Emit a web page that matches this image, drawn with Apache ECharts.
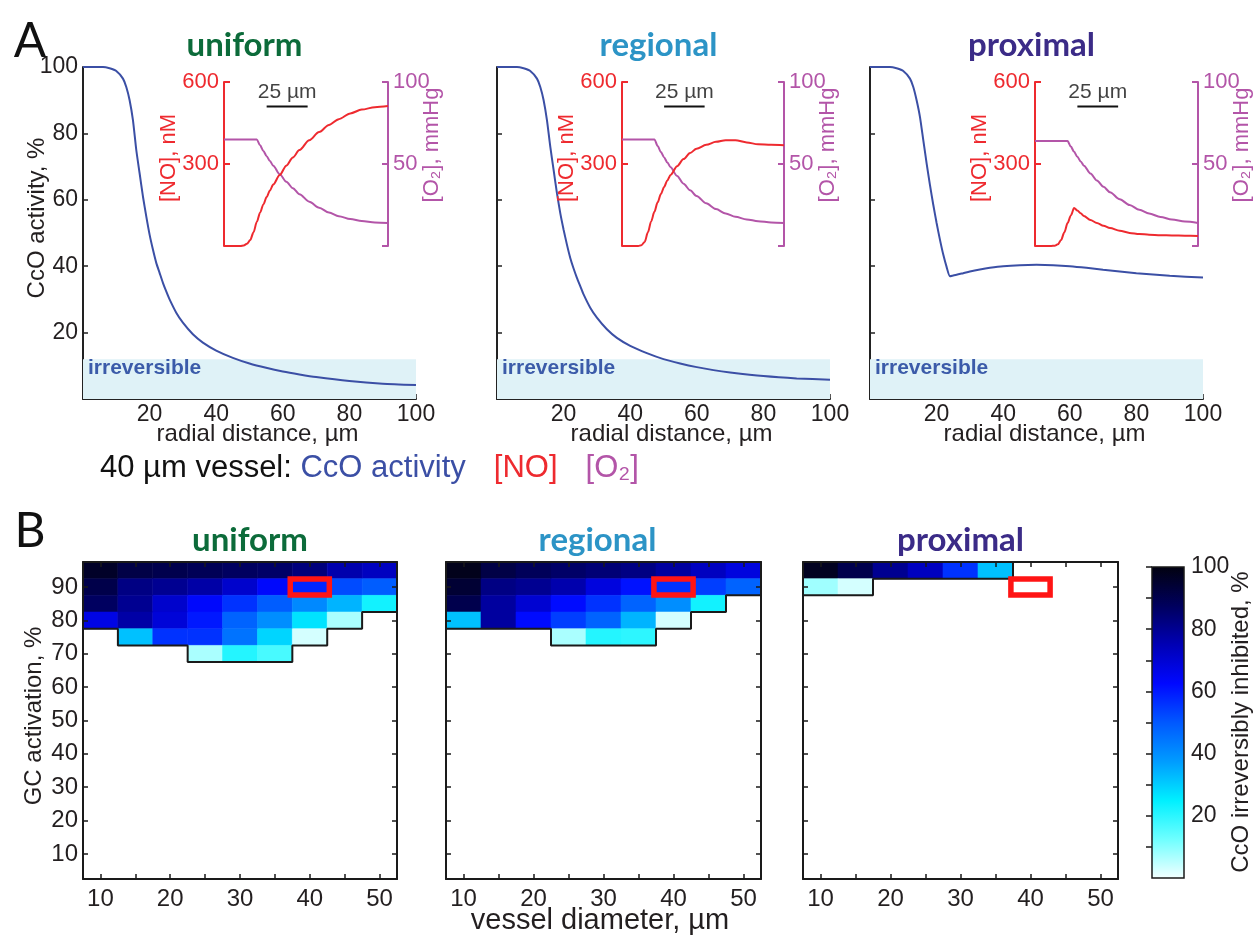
<!DOCTYPE html>
<html>
<head>
<meta charset="utf-8">
<script src="https://cdn.jsdelivr.net/npm/echarts@6/dist/echarts.min.js"></script>
<style>
  html, body { margin: 0; padding: 0; background: #ffffff; }
  #chart { width: 1256px; height: 938px; }
</style>
</head>
<body>
<div id="chart"></div>
<script>
// ---------------- Panel A: CcO activity around a 40 µm vessel ----------------
const radialA = [0, 6, 8, 10, 12, 13, 14, 15, 16, 17, 18, 19, 20, 21, 22, 23, 24, 25, 26, 28, 30, 33, 36, 40, 45, 50, 55, 60, 65, 70, 80, 90, 100];
const ccoUniform  = [100, 100, 99.6, 98.8, 96.5, 94, 90, 84, 75, 68, 61, 55, 49.5, 45, 41, 38, 35, 32.4, 30, 26, 23, 19.5, 17, 14.6, 12.4, 10.7, 9.4, 8.3, 7.4, 6.6, 5.4, 4.6, 4.2];
const ccoRegional = [100, 100, 99.6, 98.8, 96.5, 94, 90, 84, 76, 69, 62, 56, 51, 46.5, 42.5, 39.3, 36.5, 34, 31.5, 27.5, 24.5, 21, 18.4, 16, 13.8, 12, 10.7, 9.6, 8.7, 8, 6.9, 6.2, 5.8];
const ccoProximal = [100, 100, 99.6, 98.8, 96.5, 94, 90, 85, 78, 71, 64.5, 58.5, 53, 48, 43.5, 39.8, 37, 37.2, 37.4, 37.9, 38.4, 39.0, 39.5, 40.0, 40.3, 40.4, 40.3, 40.0, 39.5, 38.9, 37.9, 37.1, 36.6];
const irreversibleLevel = 12;

// Inset profiles: [NO] (nM) and [O2] (mmHg) vs radial distance (µm)
const radialInset = [0, 10, 12, 14, 16, 18, 20, 22, 24, 26, 28, 30, 34, 38, 42, 46, 52, 58, 64, 70, 77, 84, 92, 100];
const noUniform   = [0, 0, 2, 8, 22, 50, 88, 122, 152, 179, 203, 225, 260, 294, 324, 351, 387, 417, 443, 464, 485, 499, 508, 512];
const o2Uniform   = [65, 65, 65, 65, 65, 65, 65, 61.4, 58, 54.8, 51.8, 49, 43.8, 39.2, 35.2, 31.6, 27, 23.3, 20.4, 18.2, 16.4, 15.2, 14.4, 14];
const noRegional  = [0, 0, 3, 15, 50, 90, 125, 160, 190, 216, 240, 260, 292, 318, 340, 356, 370, 381, 387, 387, 379, 372, 370, 369];
const o2Regional  = [65, 65, 65, 65, 65, 65, 65, 61, 57.3, 54, 50.9, 48, 42.7, 38, 34, 30.5, 26, 22.5, 19.8, 17.8, 16.2, 15.1, 14.4, 14];
const noProximal  = [0, 0, 1, 6, 22, 50, 84, 112, 139, 130, 120, 110, 95, 84, 74, 66, 56, 48, 44, 41.5, 39.5, 38.5, 37.5, 37];
const o2Proximal  = [64, 64, 64, 64, 64, 64, 64, 60.6, 57.4, 54.4, 51.6, 49, 44.2, 39.9, 36.1, 32.8, 28.5, 25, 22.1, 19.8, 17.7, 16.1, 14.9, 14];
const scaleBarStart = 26, scaleBarLength = 25, scaleBarLevel = 510;

// ---------------- Panel B: % CcO irreversibly inhibited ----------------
const diameters = [10, 15, 20, 25, 30, 35, 40, 45, 50];
const diameterLabels = [10, 20, 30, 40, 50];
const gcLabels = [10, 20, 30, 40, 50, 60, 70, 80, 90];
const activationRows = [95, 90, 85, 80, 75, 70];   // rows below 70 % are empty in all three panels
const inhibUniform = [
  [96, 91, 90, 88.5, 87, 86, 83, 76, 73],
  [90.5, 82, 80, 77, 71, 63, 58, 52, 49],
  [87, 80, 71, 63, 56, 49, 41, 34, 23],
  [67, 77, 69, 60, 48, 40, 27, 7, null],
  [null, 32, 56, 56, 45, 29, 3, null, null],
  [null, null, null, 7, 21, 17, null, null, null]
];
const inhibRegional = [
  [98, 91, 88, 86, 84, 82, 78, 73, 68],
  [94, 82, 80, 76, 68, 61, 56, 54, 48],
  [90, 78, 70, 62, 56, 48, 40, 23, null],
  [32, 78, 62, 54, 48, 34, 3, null, null],
  [null, null, null, 7, 21, 20, null, null, null],
  [null, null, null, null, null, null, null, null, null]
];
const inhibProximal = [
  [97, 90, 80, 73, 56, 32, null, null, null],
  [8, 3, null, null, null, null, null, null, null],
  [null, null, null, null, null, null, null, null, null],
  [null, null, null, null, null, null, null, null, null],
  [null, null, null, null, null, null, null, null, null],
  [null, null, null, null, null, null, null, null, null]
];
const highlightCell = [40, 90];
const colorbarTicks = [10, 20, 30, 40, 50, 60, 70, 80, 90, 100];
const colorbarLabels = [20, 40, 60, 80, 100];
// white -> cyan -> blue -> black
const cmapColors = ['#f4ffff', '#70ffff', '#00f0ff', '#009cff', '#0058ff', '#0008ff', '#0000b4', '#00005c', '#02020f'];

// ---------------- styling and layout ----------------
const FONT = "'Liberation Sans', Arial, Helvetica, sans-serif";
const TITLE_FONT = "Lato, 'Liberation Sans', sans-serif";
const INK = '#231f20';
const CCO_BLUE = '#3b4fa5';
const NO_RED = '#ee2a2f';
const O2_PURPLE = '#b355a8';

const aRects = [
  { left: 83, top: 67, width: 333, height: 332 },
  { left: 497, top: 67, width: 333, height: 332 },
  { left: 870, top: 67, width: 333, height: 332 }
];
const insetRects = [
  { left: 224, top: 82, width: 164, height: 164 },
  { left: 622, top: 82, width: 162, height: 164 },
  { left: 1035, top: 82, width: 163, height: 164 }
];
const bRects = [
  { left: 83, top: 562, width: 314, height: 317 },
  { left: 446, top: 562, width: 315, height: 317 },
  { left: 803, top: 562, width: 315, height: 317 }
];
const cbarRect = { left: 1152, top: 567, width: 32, height: 311 };

const grid = [], xAxis = [], yAxis = [], series = [], graphic = [];
const hideZero = v => (v === 0 ? '' : String(v));

function text(str, x, y, o) {
  o = o || {};
  return {
    type: 'text', x: x, y: y, rotation: o.rot || 0, silent: true, z: 100,
    style: {
      text: str, fill: o.fill || INK, fontSize: o.size || 24, fontFamily: o.family || FONT,
      fontWeight: o.weight || 'normal', align: o.align || 'center', verticalAlign: 'middle'
    }
  };
}

// ---------------- Panel A ----------------
const panelsA = [
  { title: 'uniform',  color: '#0c6b3a', cco: ccoUniform,  no: noUniform,  o2: o2Uniform },
  { title: 'regional', color: '#2c94c6', cco: ccoRegional, no: noRegional, o2: o2Regional },
  { title: 'proximal', color: '#3b2b87', cco: ccoProximal, no: noProximal, o2: o2Proximal }
];

panelsA.forEach((p, i) => {
  const r = aRects[i];
  const g = grid.length;
  grid.push(Object.assign({}, r));
  const xi = xAxis.length;
  xAxis.push({
    gridIndex: g, type: 'value', min: 0, max: 100, interval: 20,
    axisLine: { show: true, onZero: false, lineStyle: { color: '#222', width: 2 } },
    axisTick: { show: true, inside: true, length: 5, lineStyle: { color: '#222', width: 1.5 } },
    axisLabel: { fontSize: 23, color: INK, fontFamily: FONT, margin: 4, formatter: hideZero },
    splitLine: { show: false }
  });
  const yi = yAxis.length;
  yAxis.push({
    gridIndex: g, type: 'value', min: 0, max: 100, interval: 20,
    axisLine: { show: true, onZero: false, lineStyle: { color: '#222', width: 2 } },
    axisTick: { show: true, inside: true, length: 5, lineStyle: { color: '#222', width: 1.5 } },
    axisLabel: { show: i === 0, fontSize: 23, color: INK, fontFamily: FONT, margin: 5, formatter: hideZero },
    splitLine: { show: false }
  });
  series.push({
    type: 'line', xAxisIndex: xi, yAxisIndex: yi, symbol: 'none', smooth: 0.2,
    data: radialA.map((d, k) => [d, p.cco[k]]),
    lineStyle: { color: CCO_BLUE, width: 2 }, z: 3,
    markArea: {
      silent: true,
      itemStyle: { color: '#dff2f7' },
      label: { show: false },
      data: [[{ xAxis: 0, yAxis: 0 }, { xAxis: 100, yAxis: irreversibleLevel }]]
    }
  });
  graphic.push(text('irreversible', r.left + 5, 368, { fill: '#3b5ba9', size: 21, weight: 'bold', align: 'left' }));

  // inset with [NO] (left axis) and [O2] (right axis)
  const ir = insetRects[i];
  const gi = grid.length;
  grid.push(Object.assign({}, ir));
  const ixi = xAxis.length;
  xAxis.push({ gridIndex: gi, type: 'value', min: 0, max: 100, show: false });
  const noY = yAxis.length;
  yAxis.push({
    gridIndex: gi, type: 'value', min: 0, max: 600, interval: 300, position: 'left',
    axisLine: { show: true, onZero: false, lineStyle: { color: NO_RED, width: 2 } },
    axisTick: { show: true, inside: true, length: 6, lineStyle: { color: NO_RED, width: 2 } },
    axisLabel: { color: NO_RED, fontSize: 22, fontFamily: FONT, margin: 5, formatter: hideZero },
    splitLine: { show: false }
  });
  const o2Y = yAxis.length;
  yAxis.push({
    gridIndex: gi, type: 'value', min: 0, max: 100, interval: 50, position: 'right',
    axisLine: { show: true, onZero: false, lineStyle: { color: O2_PURPLE, width: 2 } },
    axisTick: { show: true, inside: true, length: 6, lineStyle: { color: O2_PURPLE, width: 2 } },
    axisLabel: { color: O2_PURPLE, fontSize: 22, fontFamily: FONT, margin: 5, formatter: hideZero },
    splitLine: { show: false }
  });
  series.push({
    type: 'line', xAxisIndex: ixi, yAxisIndex: o2Y, symbol: 'none', smooth: 0.3, smoothMonotone: 'x',
    data: radialInset.map((d, k) => [d, p.o2[k]]),
    lineStyle: { color: O2_PURPLE, width: 2 }, z: 4
  });
  series.push({
    type: 'line', xAxisIndex: ixi, yAxisIndex: noY, symbol: 'none', smooth: 0.3, smoothMonotone: 'x',
    data: radialInset.map((d, k) => [d, p.no[k]]),
    lineStyle: { color: NO_RED, width: 2 }, z: 5
  });
  // 25 µm scale bar
  series.push({
    type: 'line', xAxisIndex: ixi, yAxisIndex: noY, symbol: 'none',
    data: [[scaleBarStart, scaleBarLevel], [scaleBarStart + scaleBarLength, scaleBarLevel]],
    lineStyle: { color: '#111', width: 2 }, z: 5
  });
  series.push({
    type: 'scatter', xAxisIndex: ixi, yAxisIndex: noY, symbolSize: 1,
    data: [[scaleBarStart + scaleBarLength / 2, scaleBarLevel]],
    itemStyle: { color: 'rgba(0,0,0,0)' },
    label: { show: true, position: 'top', distance: 3, formatter: scaleBarLength + ' µm', color: '#111', fontSize: 21, fontFamily: FONT }
  });

  // texts
  graphic.push(text(p.title, r.left + r.width / 2 - 5, 45, { fill: p.color, size: 33, weight: 'bold', family: TITLE_FONT }));
  graphic.push(text('radial distance, µm', r.left + r.width / 2 + 8, 434, { size: 24 }));
  graphic.push(text('[NO], nM', ir.left - 55, 158, { fill: NO_RED, size: 22, rot: Math.PI / 2 }));
  graphic.push(text('[O₂], mmHg', ir.left + ir.width + 44, 145, { fill: O2_PURPLE, size: 22, rot: Math.PI / 2 }));
});

graphic.push(text('A', 30, 42, { size: 48, family: TITLE_FONT, fill: '#111' }));
graphic.push(text('CcO activity, %', 37, 218, { size: 24, rot: Math.PI / 2 }));
graphic.push({
  type: 'text', x: 100, y: 468, silent: true, z: 100,
  style: {
    text: '{k|40 µm vessel: }{b|CcO activity}{g| }{r|[NO]}{g| }{p|[O₂]}',
    verticalAlign: 'middle', align: 'left',
    fontSize: 31, fontFamily: FONT,
    rich: {
      k: { fill: '#111', color: '#111', fontSize: 31, fontFamily: FONT },
      b: { fill: CCO_BLUE, color: CCO_BLUE, fontSize: 31, fontFamily: FONT },
      r: { fill: NO_RED, color: NO_RED, fontSize: 31, fontFamily: FONT },
      p: { fill: O2_PURPLE, color: O2_PURPLE, fontSize: 31, fontFamily: FONT },
      g: { width: 28, fontSize: 31 }
    }
  }
});

// ---------------- Panel B ----------------
const panelsB = [
  { title: 'uniform',  color: '#0c6b3a', values: inhibUniform },
  { title: 'regional', color: '#2c94c6', values: inhibRegional },
  { title: 'proximal', color: '#3b2b87', values: inhibProximal }
];
const colHalf = (diameters[1] - diameters[0]) / 2;
const rowHalf = (activationRows[0] - activationRows[1]) / 2;
const heatSeries = [];

function renderCell(params, api) {
  const x = api.value(0), y = api.value(1);
  const p0 = api.coord([x - colHalf, y + rowHalf]);
  const p1 = api.coord([x + colHalf, y - rowHalf]);
  const color = api.visual('color');
  return {
    type: 'rect',
    shape: { x: p0[0], y: p0[1], width: p1[0] - p0[0], height: p1[1] - p0[1] },
    style: { fill: color, stroke: color, lineWidth: 0.6 }
  };
}
function renderBox(params, api) {
  const c = api.coord([api.value(0), api.value(1)]);
  const s = api.size([colHalf * 2 * 1.12, rowHalf * 2 * 0.96]);
  return {
    type: 'rect',
    shape: { x: c[0] - s[0] / 2, y: c[1] - s[1] / 2, width: s[0], height: s[1] },
    style: { fill: 'none', stroke: '#ff1414', lineWidth: 5.5 }
  };
}
// lower edge of the filled region, one step per vessel diameter
function boundaryPath(values) {
  const pts = [];
  diameters.forEach((d, j) => {
    let lowest = null;
    activationRows.forEach((row, i) => { if (values[i][j] != null) lowest = row; });
    const edge = lowest == null ? activationRows[0] + rowHalf : lowest - rowHalf;
    pts.push([d - colHalf, edge], [d + colHalf, edge]);
  });
  return pts;
}

const bx = { min: diameters[0] - colHalf, max: diameters[diameters.length - 1] + colHalf };
const by = { min: 2.5, max: activationRows[0] + rowHalf };
const frame = { show: true, onZero: false, lineStyle: { color: '#1a1a1a', width: 2 } };
const tickStyle = { color: '#1a1a1a', width: 1.5 };

panelsB.forEach((p, i) => {
  const r = bRects[i];
  const g = grid.length;
  grid.push(Object.assign({}, r));
  const xi = xAxis.length;
  xAxis.push({
    gridIndex: g, type: 'value', min: bx.min, max: bx.max, position: 'bottom', z: 10,
    axisLine: frame,
    axisTick: { show: true, inside: true, length: 5, customValues: diameters, lineStyle: tickStyle },
    axisLabel: { show: true, customValues: diameterLabels, fontSize: 24, color: INK, fontFamily: FONT, margin: 8 },
    splitLine: { show: false }
  });
  xAxis.push({
    gridIndex: g, type: 'value', min: bx.min, max: bx.max, position: 'top', z: 10,
    axisLine: frame,
    axisTick: { show: true, inside: true, length: 5, customValues: diameters, lineStyle: tickStyle },
    axisLabel: { show: false }, splitLine: { show: false }
  });
  const yi = yAxis.length;
  yAxis.push({
    gridIndex: g, type: 'value', min: by.min, max: by.max, position: 'left', z: 10,
    axisLine: frame,
    axisTick: { show: true, inside: true, length: 5, customValues: gcLabels, lineStyle: tickStyle },
    axisLabel: { show: i === 0, customValues: gcLabels, fontSize: 24, color: INK, fontFamily: FONT, margin: 5 },
    splitLine: { show: false }
  });
  yAxis.push({
    gridIndex: g, type: 'value', min: by.min, max: by.max, position: 'right', z: 10,
    axisLine: frame,
    axisTick: { show: true, inside: true, length: 5, customValues: gcLabels, lineStyle: tickStyle },
    axisLabel: { show: false }, splitLine: { show: false }
  });

  const cells = [];
  activationRows.forEach((row, ri) => {
    diameters.forEach((d, ci) => {
      const v = p.values[ri][ci];
      if (v != null) cells.push([d, row, v]);
    });
  });
  heatSeries.push(series.length);
  series.push({
    type: 'custom', xAxisIndex: xi, yAxisIndex: yi, renderItem: renderCell,
    data: cells, encode: { x: 0, y: 1 }, z: 2, silent: true
  });
  series.push({
    type: 'line', xAxisIndex: xi, yAxisIndex: yi, symbol: 'none',
    data: boundaryPath(p.values), lineStyle: { color: '#1a1a1a', width: 2 }, z: 3, silent: true
  });
  series.push({
    type: 'custom', xAxisIndex: xi, yAxisIndex: yi, renderItem: renderBox,
    data: [highlightCell], encode: { x: 0, y: 1 }, z: 4, silent: true
  });

  graphic.push(text(p.title, r.left + r.width / 2 + [10, -6, 0][i], 540, { fill: p.color, size: 33, weight: 'bold', family: TITLE_FONT }));
});

// colour bar
const cg = grid.length;
grid.push(Object.assign({}, cbarRect));
const cxi = xAxis.length;
xAxis.push({ gridIndex: cg, type: 'value', min: 0, max: 1, show: false });
const cyi = yAxis.length;
yAxis.push({
  gridIndex: cg, type: 'value', min: 0, max: 100, position: 'right',
  axisLine: { show: false },
  axisTick: { show: true, inside: true, length: 6, customValues: colorbarTicks, lineStyle: tickStyle },
  axisLabel: { show: true, customValues: colorbarLabels, fontSize: 23, color: INK, fontFamily: FONT, margin: 7 },
  splitLine: { show: false }
});
series.push({
  type: 'custom', xAxisIndex: cxi, yAxisIndex: cyi, silent: true, z: 1,
  data: [[0, 0]], encode: { x: 0, y: 1 },
  renderItem: function (params, api) {
    const top = api.coord([0, 100]);
    const bottom = api.coord([1, 0]);
    const stops = cmapColors.map((c, k) => ({ offset: 1 - k / (cmapColors.length - 1), color: c })).reverse();
    return {
      type: 'rect',
      shape: { x: top[0], y: top[1], width: bottom[0] - top[0], height: bottom[1] - top[1] },
      style: {
        fill: { type: 'linear', x: 0, y: 0, x2: 0, y2: 1, colorStops: stops },
        stroke: '#1a1a1a', lineWidth: 1.5
      }
    };
  }
});

graphic.push(text('B', 30, 532, { size: 48, family: TITLE_FONT, fill: '#111' }));
graphic.push(text('GC activation, %', 34, 716, { size: 24, rot: Math.PI / 2 }));
graphic.push(text('vessel diameter, µm', 600, 921, { size: 29, family: FONT }));
graphic.push(text('CcO irreversibly inhibited, %', 1241, 722, { size: 24, rot: Math.PI / 2 }));

const chart = echarts.init(document.getElementById('chart'));
chart.setOption({
  animation: false,
  backgroundColor: '#ffffff',
  grid: grid,
  xAxis: xAxis,
  yAxis: yAxis,
  visualMap: {
    type: 'continuous', show: false, min: 0, max: 100, dimension: 2,
    seriesIndex: heatSeries, inRange: { color: cmapColors }
  },
  series: series,
  graphic: graphic
});
</script>
</body>
</html>
